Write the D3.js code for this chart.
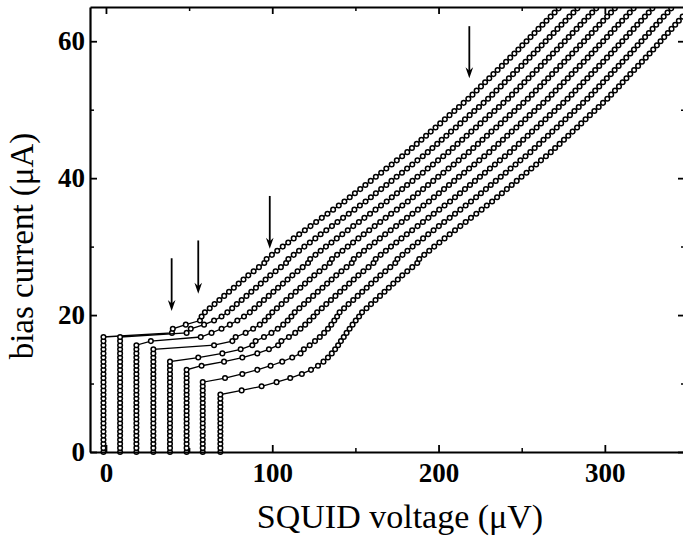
<!DOCTYPE html>
<html>
<head>
<meta charset="utf-8">
<script src="https://cdn.jsdelivr.net/npm/d3@7"></script>
<style>
  html, body { margin: 0; padding: 0; background: #fff; }
  svg { display: block; }
</style>
</head>
<body>
<svg id="chart" width="683" height="543"></svg>
<script>
// Bias current sweep (µA), shared by every trace: one sample per step.
const biasCurrents = [
  0,0.6,1.2,1.8,2.4,3,3.6,4.2,4.8,5.4,
  6,6.6,7.2,7.8,8.4,9,9.6,10.2,10.8,11.4,
  12,12.6,13.2,13.8,14.4,15,15.6,16.2,16.8,17.4,
  18,18.6,19.2,19.8,20.4,21,21.6,22.2,22.8,23.4,
  24,24.6,25.2,25.8,26.4,27,27.6,28.2,28.8,29.4,
  30,30.6,31.2,31.8,32.4,33,33.6,34.2,34.8,35.4,
  36,36.6,37.2,37.8,38.4,39,39.6,40.2,40.8,41.4,
  42,42.6,43.2,43.8,44.4,45,45.6,46.2,46.8,47.4,
  48,48.6,49.2,49.8,50.4,51,51.6,52.2,52.8,53.4,
  54,54.6,55.2,55.8,56.4,57,57.6,58.2,58.8,59.4,
  60,60.6,61.2,61.8,62.4,63,63.6,64.2,64.8,65.4
];

// Measured SQUID voltage (µV) at each bias step, one array per flux setting
// (successive traces are displaced to the right for clarity).
const trace1 = [
  -1.5,-1.5,-1.5,-1.5,-1.5,-1.5,-1.5,-1.5,-1.5,-1.5,
  -1.5,-1.5,-1.5,-1.5,-1.5,-1.5,-1.5,-1.5,-1.5,-1.5,
  -1.5,-1.5,-1.5,-1.5,-1.5,-1.5,-1.5,-1.5,-1.5,
  39.7,40.2,48.0,56.5,57.5,
  59.5,62.4,65.3,68.2,71.1,74.0,76.9,79.8,82.7,85.6,
  88.8,92.0,95.2,96.6,99.8,103.0,106.3,109.6,112.9,116.2,
  119.6,123.0,126.4,129.8,133.2,136.6,140.0,143.4,146.6,149.7,
  152.9,156.0,159.2,162.3,165.5,168.6,171.8,174.9,178.1,181.2,
  184.0,186.9,189.7,192.5,195.3,198.2,201.0,203.8,206.6,209.5,
  212.3,215.1,217.9,220.4,222.9,225.5,228.0,230.5,233.0,235.5,
  238.1,240.6,243.1,245.6,248.0,250.4,252.9,255.3,257.7,260.1,
  262.5,264.9,267.4,269.8,272.2,274.6
];
const trace2 = [
  8.5,8.5,8.5,8.5,8.5,8.5,8.5,8.5,8.5,8.5,
  8.5,8.5,8.5,8.5,8.5,8.5,8.5,8.5,8.5,8.5,
  8.5,8.5,8.5,8.5,8.5,8.5,8.5,8.5,8.5,
  48.5,51.0,59.0,65.0,69.5,
  73.0,75.9,78.7,81.6,84.5,87.4,90.2,93.1,96.0,98.8,
  102.0,105.2,108.3,109.7,112.9,116.1,119.3,122.6,125.9,129.1,
  132.5,135.9,139.2,142.6,146.0,149.4,152.7,156.1,159.3,162.3,
  165.5,168.6,171.7,174.8,178.0,181.1,184.2,187.3,190.5,193.5,
  196.3,199.2,201.9,204.7,207.5,210.4,213.1,215.9,218.7,221.5,
  224.3,227.1,229.8,232.3,234.8,237.4,239.8,242.3,244.8,247.2,
  249.8,252.3,254.7,257.2,259.6,262.0,264.4,266.8,269.2,271.5,
  273.9,276.3,278.7,281.1,283.5,285.9
];
const trace3 = [
  18.3,18.3,18.3,18.3,18.3,18.3,18.3,18.3,18.3,18.3,
  18.3,18.3,18.3,18.3,18.3,18.3,18.3,18.3,18.3,18.3,
  18.3,18.3,18.3,18.3,18.3,18.3,18.3,
  27.0,57.0,63.5,69.5,74.5,79.0,83.0,
  86.5,89.3,92.2,95.0,97.9,100.7,103.5,106.4,109.2,112.1,
  115.2,118.3,121.5,122.8,126.0,129.1,132.3,135.6,138.8,142.1,
  145.4,148.7,152.1,155.4,158.8,162.1,165.4,168.8,171.9,175.0,
  178.1,181.1,184.3,187.3,190.5,193.5,196.6,199.7,202.8,205.9,
  208.6,211.4,214.2,216.9,219.7,222.5,225.2,228.0,230.7,233.6,
  236.3,239.0,241.8,244.2,246.7,249.2,251.6,254.1,256.5,259.0,
  261.5,263.9,266.4,268.8,271.2,273.5,275.9,278.3,280.6,283.0,
  285.3,287.6,290.1,292.4,294.8,297.1
];
const trace4 = [
  28.5,28.5,28.5,28.5,28.5,28.5,28.5,28.5,28.5,28.5,
  28.5,28.5,28.5,28.5,28.5,28.5,28.5,28.5,28.5,28.5,
  28.5,28.5,28.5,28.5,28.5,28.5,
  65.0,76.0,78.0,84.0,88.5,92.5,95.5,97.8,
  100.0,102.8,105.6,108.4,111.2,114.1,116.9,119.7,122.5,125.3,
  128.4,131.5,134.6,135.9,139.0,142.2,145.4,148.6,151.8,155.0,
  158.3,161.6,164.9,168.2,171.5,174.9,178.2,181.5,184.6,187.6,
  190.7,193.7,196.8,199.8,202.9,206.0,209.1,212.1,215.2,218.2,
  220.9,223.7,226.4,229.1,231.8,234.7,237.4,240.1,242.8,245.6,
  248.3,251.0,253.7,256.1,258.5,261.1,263.5,265.9,268.3,270.7,
  273.2,275.6,278.0,280.4,282.7,285.1,287.5,289.8,292.1,294.4,
  296.7,299.0,301.4,303.7,306.0,308.4
];
const trace5 = [
  38.5,38.5,38.5,38.5,38.5,38.5,38.5,38.5,38.5,38.5,
  38.5,38.5,38.5,38.5,38.5,38.5,38.5,38.5,38.5,38.5,
  38.5,38.5,38.5,
  55.5,70.0,81.0,88.0,90.0,95.0,99.5,103.3,106.6,109.3,111.5,
  113.5,116.3,119.1,121.8,124.6,127.4,130.2,133.0,135.7,138.5,
  141.6,144.7,147.8,149.0,152.1,155.2,158.4,161.6,164.7,167.9,
  171.2,174.5,177.8,181.0,184.3,187.6,190.9,194.2,197.2,200.2,
  203.3,206.3,209.4,212.3,215.4,218.4,221.5,224.5,227.5,230.5,
  233.2,236.0,238.7,241.3,244.0,246.8,249.5,252.2,254.8,257.6,
  260.3,263.0,265.7,268.0,270.4,272.9,275.3,277.7,280.0,282.4,
  284.9,287.3,289.7,292.0,294.3,296.6,299.0,301.3,303.5,305.8,
  308.1,310.4,312.8,315.0,317.3,319.6
];
const trace6 = [
  48.5,48.5,48.5,48.5,48.5,48.5,48.5,48.5,48.5,48.5,
  48.5,48.5,48.5,48.5,48.5,48.5,48.5,48.5,48.5,48.5,
  48.5,
  57.5,71.0,82.0,91.0,98.0,103.5,105.5,110.0,113.8,117.0,119.8,122.4,124.8,
  127.0,129.8,132.5,135.3,138.0,140.8,143.5,146.3,149.0,151.8,
  154.8,157.9,160.9,162.2,165.2,168.3,171.4,174.6,177.7,180.9,
  184.1,187.4,190.6,193.9,197.1,200.4,203.6,206.9,209.9,212.9,
  215.9,218.9,221.9,224.9,227.9,230.9,233.9,236.9,239.9,242.9,
  245.5,248.3,250.9,253.6,256.2,259.0,261.6,264.3,266.9,269.7,
  272.3,275.0,277.6,280.0,282.3,284.8,287.1,289.5,291.8,294.2,
  296.6,299.0,301.3,303.7,305.9,308.2,310.5,312.8,315.0,317.3,
  319.5,321.8,324.1,326.4,328.6,330.9
];
const trace7 = [
  58.2,58.2,58.2,58.2,58.2,58.2,58.2,58.2,58.2,58.2,
  58.2,58.2,58.2,58.2,58.2,58.2,58.2,58.2,
  71.6,82.0,91.0,99.0,106.0,112.0,117.0,119.0,122.5,125.7,128.6,131.2,133.5,135.5,137.3,139.0,
  140.5,143.2,145.9,148.7,151.4,154.1,156.8,159.5,162.3,165.0,
  168.0,171.0,174.0,175.3,178.3,181.3,184.4,187.5,190.7,193.8,
  197.0,200.2,203.4,206.7,209.9,213.1,216.3,219.5,222.6,225.5,
  228.5,231.4,234.4,237.4,240.4,243.3,246.3,249.2,252.3,255.2,
  257.8,260.5,263.1,265.8,268.4,271.1,273.7,276.3,279.0,281.7,
  284.3,286.9,289.5,291.9,294.2,296.6,298.9,301.2,303.6,305.9,
  308.3,310.6,312.9,315.3,317.5,319.7,322.0,324.2,326.5,328.7,
  330.9,333.1,335.4,337.7,339.9,342.1
];
const trace8 = [
  68.8,68.8,68.8,68.8,68.8,68.8,68.8,68.8,68.8,68.8,
  68.8,68.8,68.8,68.8,68.8,
  81.6,93.6,102.6,110.8,117.8,123.3,127.5,130.8,133.5,135.8,
  137.8,139.6,141.3,143.0,144.7,146.5,148.3,150.2,152.2,
  154.0,156.7,159.4,162.1,164.8,167.5,170.1,172.8,175.5,178.2,
  181.2,184.2,187.2,188.4,191.4,194.4,197.4,200.5,203.6,206.7,
  209.9,213.1,216.3,219.5,222.7,225.9,229.0,232.2,235.2,238.1,
  241.1,244.0,247.0,249.9,252.9,255.8,258.7,261.6,264.6,267.5,
  270.1,272.8,275.4,278.0,280.6,283.3,285.8,288.4,291.0,293.7,
  296.3,298.9,301.5,303.8,306.1,308.5,310.7,313.0,315.3,317.6,
  320.0,322.3,324.6,326.9,329.1,331.3,333.5,335.7,337.9,340.1,
  342.3,344.5,346.8,349.0,351.2,353.4
];
const traces = [trace1, trace2, trace3, trace4, trace5, trace6, trace7, trace8];

// Arrows marking features on the first trace: voltage, tail current, tip current.
const arrowVoltages = [39.5, 55.5, 98.5, 218.5];
const arrowTails    = [28.3, 30.9, 37.4, 62.2];
const arrowTips     = [20.6, 23.1, 29.7, 54.6];

// Axis ticks.
const xMajorTicks = [0, 100, 200, 300];
const xMinorTicks = [50, 150, 250];
const yMajorTicks = [0, 20, 40, 60];
const yMinorTicks = [10, 30, 50];

const svg = d3.select("#chart");
svg.append("rect").attr("width", 683).attr("height", 543).attr("fill", "#fff");

const xScale = d3.scaleLinear().domain([-9.6, 348.2]).range([90, 685]);
const yScale = d3.scaleLinear().domain([0, 65]).range([452, 7]);

// Clip at the top and right frame; markers on the bottom axis stay whole.
svg.append("defs").append("clipPath").attr("id", "plotClip")
  .append("rect").attr("x", 0).attr("y", yScale(65)).attr("width", xScale(348.2)).attr("height", 470);

const plotLayer = svg.append("g").attr("clip-path", "url(#plotClip)");
const traceLine = d3.line().x(d => xScale(d.v)).y(d => yScale(d.i));

traces.forEach(tr => {
  const pts = tr.slice(0, biasCurrents.length).map((v, n) => ({ v, i: biasCurrents[n] }));
  const g = plotLayer.append("g");
  g.append("path").datum(pts)
    .attr("d", traceLine)
    .attr("fill", "none")
    .attr("stroke", "#000")
    .attr("stroke-width", 1.3);
  g.selectAll("circle").data(pts).join("circle")
    .attr("cx", d => xScale(d.v))
    .attr("cy", d => yScale(d.i))
    .attr("r", 2.3)
    .attr("fill", "#fff")
    .attr("stroke", "#000")
    .attr("stroke-width", 1.5);
});

// Arrows
const arrowLayer = svg.append("g");
arrowVoltages.forEach((v, k) => {
  const ax = xScale(v), ty = yScale(arrowTips[k]), sy = yScale(arrowTails[k]);
  arrowLayer.append("line")
    .attr("x1", ax).attr("x2", ax).attr("y1", sy).attr("y2", ty - 6)
    .attr("stroke", "#000").attr("stroke-width", 1.8);
  arrowLayer.append("path")
    .attr("d", `M${ax},${ty} L${ax - 3.8},${ty - 11} L${ax},${ty - 7.5} L${ax + 3.8},${ty - 11} Z`)
    .attr("fill", "#000");
});

// Axes on all four sides, ticks pointing inward
const serifFont = "Liberation Serif, 'Times New Roman', serif";
function styleAxis(g, width) {
  g.selectAll(".domain").attr("stroke", "#000").attr("stroke-width", width);
  g.selectAll(".tick line").attr("stroke", "#000").attr("stroke-width", 1.8);
  g.selectAll(".tick text").attr("fill", "#000")
    .style("font-family", serifFont).style("font-size", "27px").style("font-weight", "bold");
}
function minorTicks(g) {
  g.select(".domain").remove();
  g.selectAll(".tick line").attr("stroke", "#000").attr("stroke-width", 1.5);
}

const axisBottomG = svg.append("g").attr("transform", `translate(0,${yScale(0)})`)
  .call(d3.axisBottom(xScale).tickValues(xMajorTicks).tickSize(-7).tickSizeOuter(0).tickPadding(11).tickFormat(d3.format("d")));
styleAxis(axisBottomG, 2.2);
svg.append("g").attr("transform", `translate(0,${yScale(0)})`)
  .call(d3.axisBottom(xScale).tickValues(xMinorTicks).tickSize(-4).tickSizeOuter(0).tickFormat(""))
  .call(minorTicks);

const axisTopG = svg.append("g").attr("transform", `translate(0,${yScale(65)})`)
  .call(d3.axisTop(xScale).tickValues(xMajorTicks).tickSize(-7).tickSizeOuter(0).tickFormat(""));
styleAxis(axisTopG, 2.2);
svg.append("g").attr("transform", `translate(0,${yScale(65)})`)
  .call(d3.axisTop(xScale).tickValues(xMinorTicks).tickSize(-4).tickSizeOuter(0).tickFormat(""))
  .call(minorTicks);

const axisLeftG = svg.append("g").attr("transform", `translate(${xScale(-9.6)},0)`)
  .call(d3.axisLeft(yScale).tickValues(yMajorTicks).tickSize(-7).tickSizeOuter(0).tickPadding(5).tickFormat(d3.format("d")));
styleAxis(axisLeftG, 2.2);
svg.append("g").attr("transform", `translate(${xScale(-9.6)},0)`)
  .call(d3.axisLeft(yScale).tickValues(yMinorTicks).tickSize(-4).tickSizeOuter(0).tickFormat(""))
  .call(minorTicks);

const axisRightG = svg.append("g").attr("transform", `translate(${xScale(348.2)},0)`)
  .call(d3.axisRight(yScale).tickValues(yMajorTicks).tickSize(-7).tickSizeOuter(0).tickFormat(""));
styleAxis(axisRightG, 2.2);
svg.append("g").attr("transform", `translate(${xScale(348.2)},0)`)
  .call(d3.axisRight(yScale).tickValues(yMinorTicks).tickSize(-4).tickSizeOuter(0).tickFormat(""))
  .call(minorTicks);

// Axis titles
svg.append("text")
  .attr("x", 400).attr("y", 528)
  .attr("text-anchor", "middle")
  .style("font-family", serifFont).style("font-size", "34px")
  .text("SQUID voltage (μV)");
svg.append("text")
  .attr("transform", "translate(33,246) rotate(-90)")
  .attr("text-anchor", "middle")
  .style("font-family", serifFont).style("font-size", "33px")
  .text("bias current (μA)");
</script>
</body>
</html>
